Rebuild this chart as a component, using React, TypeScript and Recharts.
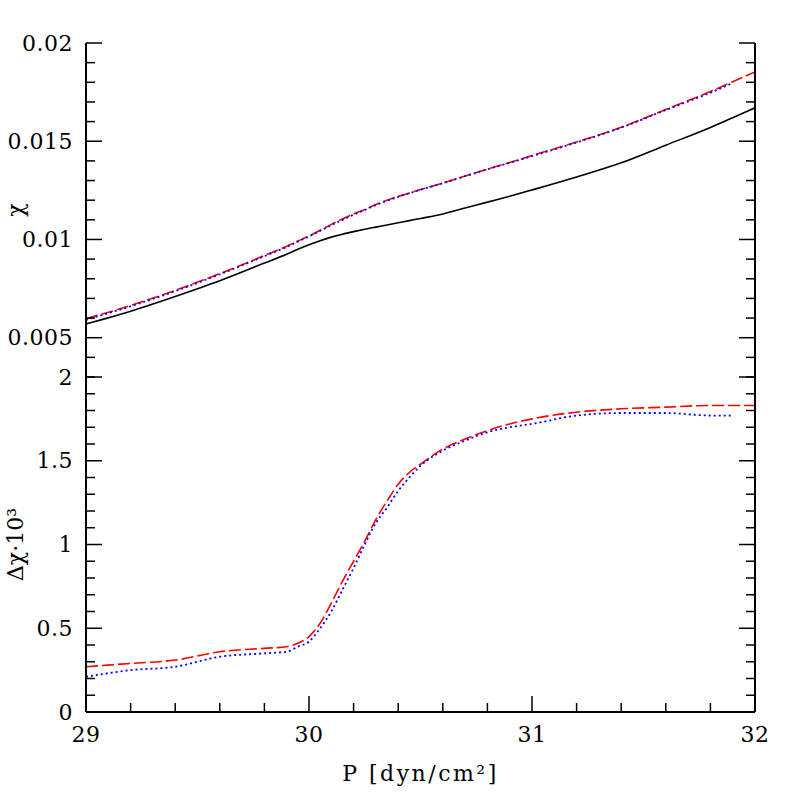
import { LineChart, Line, XAxis, YAxis, Label } from 'recharts';

// pressure grid
const P = [29, 29.2, 29.4, 29.6, 29.8, 29.9, 29.95, 30, 30.05, 30.1, 30.15, 30.2, 30.25, 30.3, 30.35, 30.4, 30.45, 30.5, 30.6, 30.7, 30.8, 30.9, 31, 31.2, 31.4, 31.6, 31.8, 31.9, 32];

// top panel: chi
const chiSolid = [0.0057, 0.00635, 0.0071, 0.0079, 0.0088, 0.00925, 0.0095, 0.00973, 0.00994, 0.01012, 0.01027, 0.0104, 0.01052, 0.01063, 0.01074, 0.01085, 0.01096, 0.01107, 0.0113, 0.0116, 0.0119, 0.0122, 0.01252, 0.01318, 0.0139, 0.0148, 0.0157, 0.0162, 0.0167];
const chiDashed = [0.00597, 0.00664, 0.00741, 0.00826, 0.00918, 0.00966, 0.00992, 0.01018, 0.01047, 0.01077, 0.01104, 0.0113, 0.01153, 0.01178, 0.012, 0.01219, 0.01237, 0.01254, 0.01287, 0.01323, 0.01358, 0.01392, 0.01427, 0.01496, 0.01571, 0.01662, 0.01753, 0.01803, 0.01853];
const chiDotted = [0.00591, 0.0066, 0.00737, 0.00823, 0.00915, 0.00962, 0.00989, 0.01015, 0.01044, 0.01073, 0.011, 0.01126, 0.0115, 0.01175, 0.01197, 0.01217, 0.01235, 0.01253, 0.01286, 0.01322, 0.01357, 0.0139, 0.01424, 0.01494, 0.01569, 0.01659, 0.01747, 0.01797, null];

// bottom panel: delta chi * 10^3
const dDashed = [0.27, 0.29, 0.31, 0.36, 0.38, 0.39, 0.41, 0.45, 0.53, 0.65, 0.78, 0.9, 1.02, 1.15, 1.26, 1.36, 1.43, 1.48, 1.57, 1.63, 1.68, 1.72, 1.75, 1.79, 1.81, 1.82, 1.83, 1.83, 1.83];
const dDotted = [0.21, 0.25, 0.27, 0.33, 0.35, 0.36, 0.39, 0.42, 0.5, 0.6, 0.73, 0.86, 1.0, 1.13, 1.22, 1.32, 1.4, 1.47, 1.56, 1.62, 1.67, 1.7, 1.72, 1.77, 1.785, 1.785, 1.77, 1.77, null];

// ticks
const xTicks = [29, 29.2, 29.4, 29.6, 29.8, 30, 30.2, 30.4, 30.6, 30.8, 31, 31.2, 31.4, 31.6, 31.8, 32];
const xLabels = [29, 30, 31, 32];
const topTicks = [0.003, 0.004, 0.005, 0.006, 0.007, 0.008, 0.009, 0.01, 0.011, 0.012, 0.013, 0.014, 0.015, 0.016, 0.017, 0.018, 0.019, 0.02];
const topLabels = [0.005, 0.01, 0.015, 0.02];
const botTicks = [0, 0.1, 0.2, 0.3, 0.4, 0.5, 0.6, 0.7, 0.8, 0.9, 1, 1.1, 1.2, 1.3, 1.4, 1.5, 1.6, 1.7, 1.8, 1.9, 2];
const botLabels = [0, 0.5, 1, 1.5, 2];

const data = P.map((p, i) => ({
  p,
  solid: chiSolid[i],
  dashed: chiDashed[i],
  dotted: chiDotted[i],
  dDashed: dDashed[i],
  dDotted: dDotted[i],
}));

const W = 797;
const H = 797;
const FONT = '"DejaVu Serif", serif';
const FS = 22;
const MAJOR = 16;
const MINOR = 9;

function makeTick(side: 'left' | 'right' | 'top' | 'bottom', majors: number[], showLabel: boolean) {
  return (props: any) => {
    const { x, y, payload } = props;
    const v = payload.value;
    const major = majors.includes(v);
    const len = major ? MAJOR : MINOR;
    let line;
    if (side === 'left') line = <line x1={x} x2={x + len} y1={y} y2={y} />;
    else if (side === 'right') line = <line x1={x} x2={x - len} y1={y} y2={y} />;
    else if (side === 'top') line = <line x1={x} x2={x} y1={y} y2={y + len} />;
    else line = <line x1={x} x2={x} y1={y} y2={y - len} />;
    return (
      <g stroke="#000" strokeWidth={1.5}>
        {line}
        {showLabel && major && side === 'left' && (
          <text x={x - 13} y={y} textAnchor="end" dominantBaseline="central" stroke="none" fill="#000"
            fontFamily={FONT} fontSize={FS} letterSpacing={0.5}>{String(v)}</text>
        )}
        {showLabel && major && side === 'bottom' && (
          <text x={x} y={y + 22} textAnchor="middle" dominantBaseline="central" stroke="none" fill="#000"
            fontFamily={FONT} fontSize={FS} letterSpacing={0.5}>{String(v)}</text>
        )}
      </g>
    );
  };
}

const axisLine = { stroke: '#000', strokeWidth: 2 };

function yTitle(text: string) {
  return (props: any) => {
    const vb = props.viewBox;
    const cy = vb.y + vb.height / 2;
    return (
      <text x={15} y={cy} transform={`rotate(-90 15 ${cy})`} textAnchor="middle" dominantBaseline="central"
        fontFamily={FONT} fontSize={FS} fill="#000">{text}</text>
    );
  };
}

export default function App() {
  const abs: React.CSSProperties = { position: 'absolute', left: 0, top: 0 };
  return (
    <div style={{ position: 'fixed', left: 0, top: 0, width: W, height: H, background: '#fff' }}>
      <div style={abs}>
        <LineChart width={W} height={H} data={data} margin={{ top: 43, right: 0, bottom: 420, left: 0 }}>
          <XAxis xAxisId="b" dataKey="p" type="number" domain={[29, 32]} ticks={xTicks} interval={0}
            allowDataOverflow height={0} tickSize={0} tickMargin={0} tickLine={false} axisLine={axisLine}
            tick={makeTick('bottom', xLabels, false)} />
          <XAxis xAxisId="t" orientation="top" dataKey="p" type="number" domain={[29, 32]} ticks={xTicks} interval={0}
            allowDataOverflow height={0} tickSize={0} tickMargin={0} tickLine={false} axisLine={axisLine}
            tick={makeTick('top', xLabels, false)} />
          <YAxis yAxisId="l" type="number" domain={[0.003, 0.02]} ticks={topTicks} interval={0} allowDataOverflow
            width={86} tickSize={0} tickMargin={0} tickLine={false} axisLine={axisLine}
            tick={makeTick('left', topLabels, true)}>
            <Label content={yTitle('χ')} />
          </YAxis>
          <YAxis yAxisId="r" orientation="right" type="number" domain={[0.003, 0.02]} ticks={topTicks} interval={0}
            allowDataOverflow width={42} tickSize={0} tickMargin={0} tickLine={false} axisLine={axisLine}
            tick={makeTick('right', topLabels, false)} />
          <Line xAxisId="b" yAxisId="l" type="monotone" dataKey="solid" stroke="#000" strokeWidth={1.6}
            dot={false} isAnimationActive={false} />
          <Line xAxisId="b" yAxisId="l" type="monotone" dataKey="dashed" stroke="#ff0000" strokeWidth={1.6}
            strokeDasharray="12 4" dot={false} isAnimationActive={false} />
          <Line xAxisId="b" yAxisId="l" type="monotone" dataKey="dotted" stroke="#0000ff" strokeWidth={1.8}
            strokeDasharray="2 3" dot={false} isAnimationActive={false} />
        </LineChart>
      </div>
      <div style={abs}>
        <LineChart width={W} height={H} data={data} margin={{ top: 377, right: 0, bottom: 0, left: 0 }}>
          <XAxis xAxisId="b" dataKey="p" type="number" domain={[29, 32]} ticks={xTicks} interval={0}
            allowDataOverflow height={85} tickSize={0} tickMargin={0} tickLine={false} axisLine={axisLine}
            tick={makeTick('bottom', xLabels, true)}>
            <Label content={(props: any) => {
              const vb = props.viewBox;
              return (
                <text x={vb.x + vb.width / 2} y={vb.y + 61} textAnchor="middle" dominantBaseline="central"
                  fontFamily={FONT} fontSize={FS} letterSpacing={2.5} fill="#000">P [dyn/cm²]</text>
              );
            }} />
          </XAxis>
          <XAxis xAxisId="t" orientation="top" dataKey="p" type="number" domain={[29, 32]} ticks={xTicks} interval={0}
            allowDataOverflow height={0} tickSize={0} tickMargin={0} tickLine={false} axisLine={axisLine}
            tick={makeTick('top', xLabels, false)} />
          <YAxis yAxisId="l" type="number" domain={[0, 2]} ticks={botTicks} interval={0} allowDataOverflow
            width={86} tickSize={0} tickMargin={0} tickLine={false} axisLine={axisLine}
            tick={makeTick('left', botLabels, true)}>
            <Label content={yTitle('Δχ·10³')} />
          </YAxis>
          <YAxis yAxisId="r" orientation="right" type="number" domain={[0, 2]} ticks={botTicks} interval={0}
            allowDataOverflow width={42} tickSize={0} tickMargin={0} tickLine={false} axisLine={axisLine}
            tick={makeTick('right', botLabels, false)} />
          <Line xAxisId="b" yAxisId="l" type="monotone" dataKey="dDashed" stroke="#ff0000" strokeWidth={1.6}
            strokeDasharray="12 4" dot={false} isAnimationActive={false} />
          <Line xAxisId="b" yAxisId="l" type="monotone" dataKey="dDotted" stroke="#0000ff" strokeWidth={1.8}
            strokeDasharray="2 3" dot={false} isAnimationActive={false} />
        </LineChart>
      </div>
    </div>
  );
}
